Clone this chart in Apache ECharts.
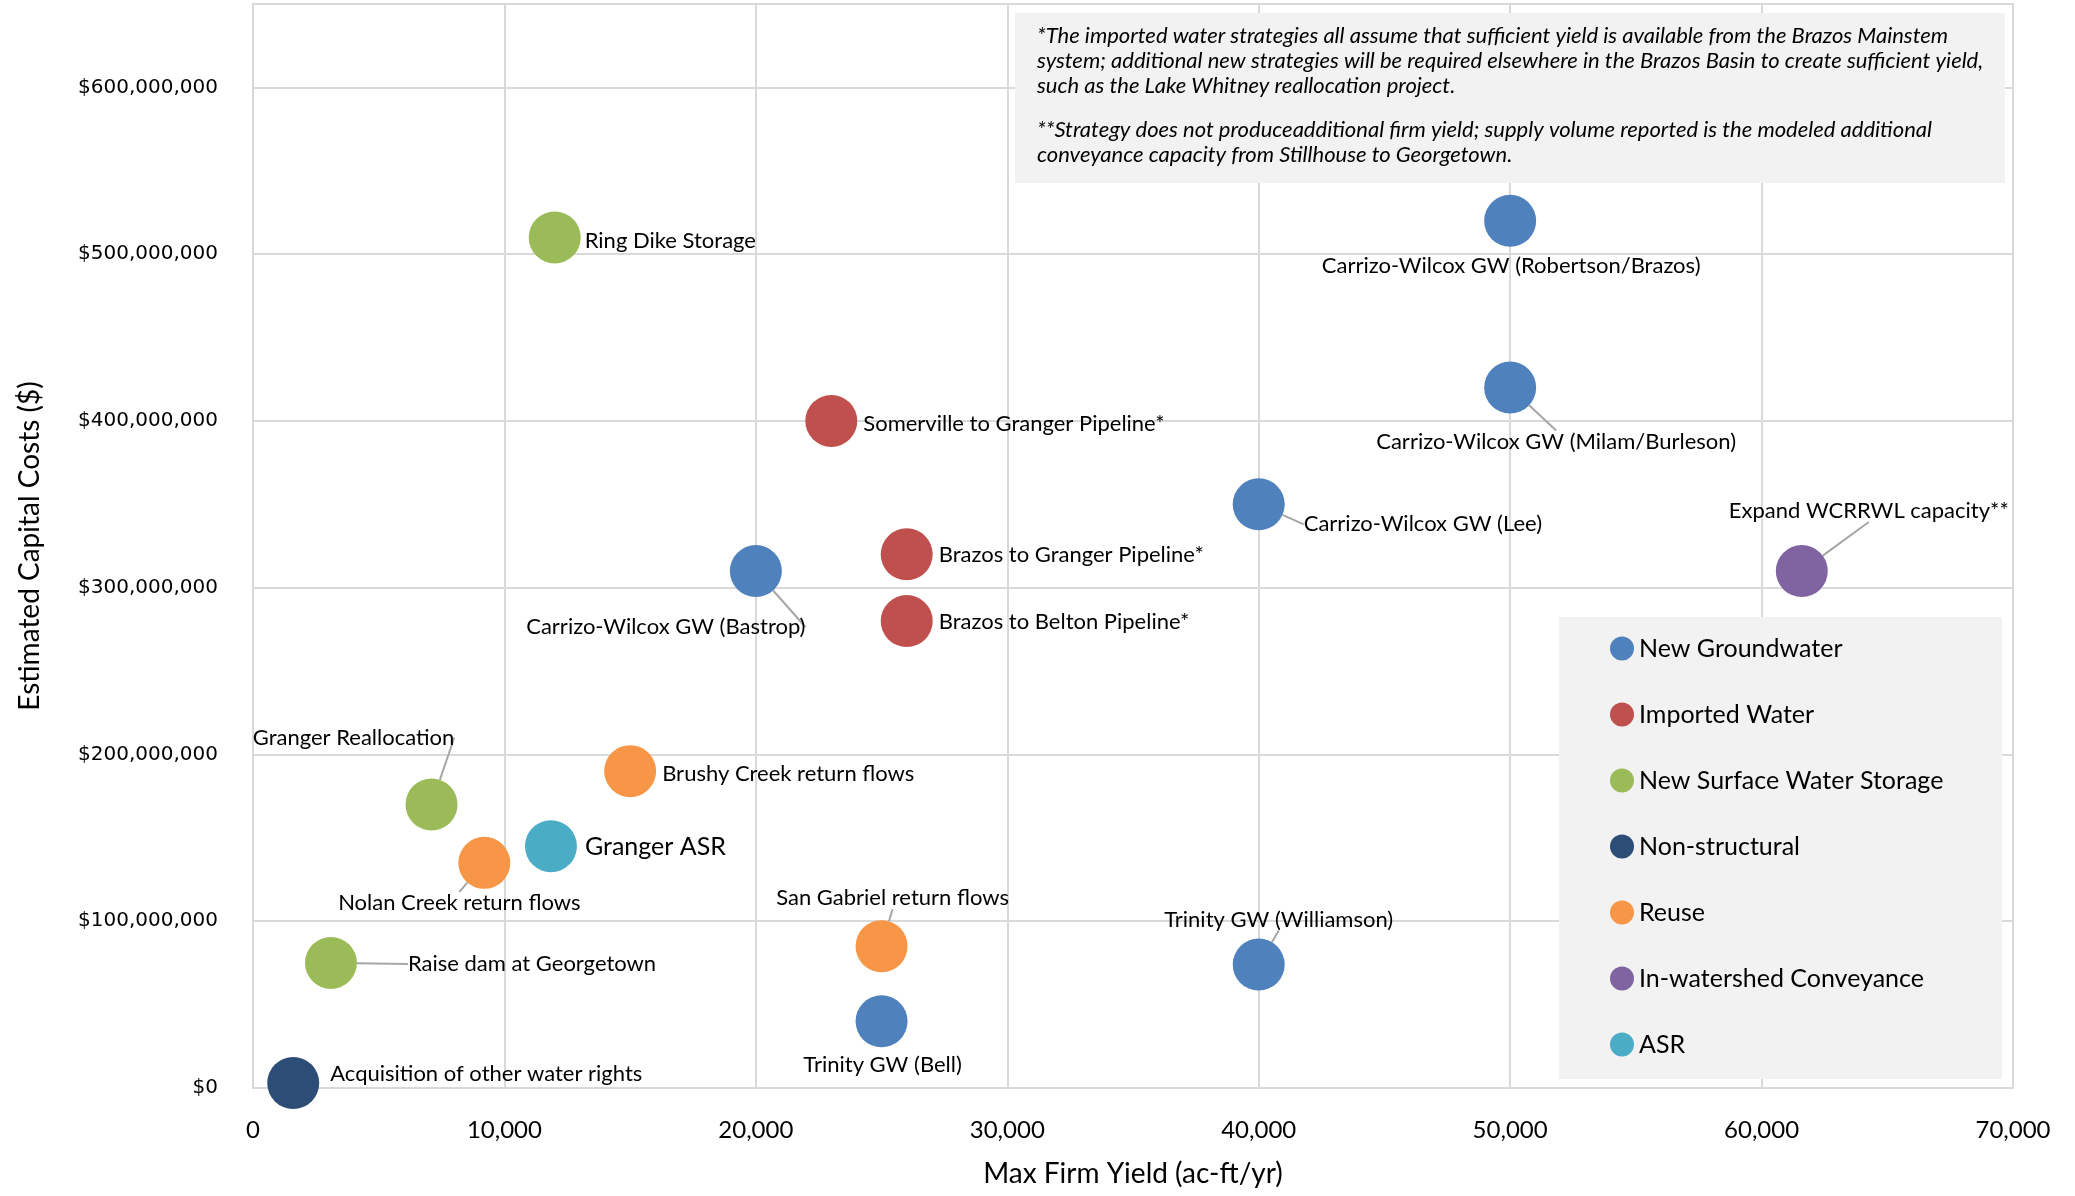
<!DOCTYPE html>
<html lang="en">
<head>
    <meta charset="UTF-8">
    <title>Capital cost vs firm yield</title>
    <style>
        html, body, #container { margin: 0; height: 100%; width: 100%; background: #fff; }
    </style>
</head>
<body>
    <div id="container"></div>
    <script src="https://cdn.jsdelivr.net/npm/echarts@6/dist/echarts.min.js"></script>
    <script>
        // strategy groups (legend order)
        var categories = ['New Groundwater', 'Imported Water', 'New Surface Water Storage',
            'Non-structural', 'Reuse', 'In-watershed Conveyance', 'ASR'];

        // one entry per strategy
        var strategyNames = [
            'Carrizo-Wilcox GW (Robertson/Brazos)', 'Carrizo-Wilcox GW (Milam/Burleson)',
            'Carrizo-Wilcox GW (Lee)', 'Carrizo-Wilcox GW (Bastrop)',
            'Trinity GW (Williamson)', 'Trinity GW (Bell)',
            'Somerville to Granger Pipeline*', 'Brazos to Granger Pipeline*', 'Brazos to Belton Pipeline*',
            'Ring Dike Storage', 'Granger Reallocation', 'Raise dam at Georgetown',
            'Acquisition of other water rights',
            'Brushy Creek return flows', 'Nolan Creek return flows', 'San Gabriel return flows',
            'Expand WCRRWL capacity**',
            'Granger ASR'
        ];
        var strategyGroup = [0, 0, 0, 0, 0, 0, 1, 1, 1, 2, 2, 2, 3, 4, 4, 4, 5, 6];
        var maxFirmYield = [50000, 50000, 40000, 20000, 40000, 25000, 23000, 26000, 26000,
            12000, 7100, 3100, 1600, 15000, 9200, 25000, 61600, 11850];
        var capitalCost = [520e6, 420e6, 350e6, 310e6, 74e6, 40e6, 400e6, 320e6, 280e6,
            510e6, 170e6, 75e6, 3e6, 190e6, 135e6, 85e6, 310e6, 145e6];

        var xTicks = { min: 0, max: 70000, interval: 10000 };
        var yTicks = { min: 0, max: 650000000, interval: 100000000 };

        var groupColors = ['#4F81BD', '#C0504D', '#9BBB59', '#2C4D75', '#F79646', '#8064A2', '#4BACC6'];

        // label placement relative to bubble centre: [dx, dy, align, leader line]
        var labelPlace = {
            'Carrizo-Wilcox GW (Robertson/Brazos)': [1, 45, 'center', false],
            'Carrizo-Wilcox GW (Milam/Burleson)': [46, 54, 'center', true],
            'Carrizo-Wilcox GW (Lee)': [45, 20, 'left', true],
            'Carrizo-Wilcox GW (Bastrop)': [-90, 56, 'center', true],
            'Trinity GW (Williamson)': [20, -45, 'center', true],
            'Trinity GW (Bell)': [1, 44, 'center', false],
            'Somerville to Granger Pipeline*': [32, 3, 'left', false],
            'Brazos to Granger Pipeline*': [32, 1, 'left', false],
            'Brazos to Belton Pipeline*': [32, 1, 'left', false],
            'Ring Dike Storage': [30, 3, 'left', false],
            'Granger Reallocation': [-78, -67, 'center', true],
            'Raise dam at Georgetown': [77, 1, 'left', true],
            'Acquisition of other water rights': [37, -9, 'left', false],
            'Brushy Creek return flows': [32, 3, 'left', false],
            'Nolan Creek return flows': [-25, 40, 'center', true],
            'San Gabriel return flows': [11, -48, 'center', true],
            'Expand WCRRWL capacity**': [67, -60, 'center', true],
            'Granger ASR': [34, 1, 'left', false]
        };

        var series = categories.map(function (cat, ci) {
            var data = [];
            strategyNames.forEach(function (name, i) {
                if (strategyGroup[i] !== ci) return;
                var item = { name: name, value: [maxFirmYield[i], capitalCost[i]] };
                item.labelLine = { show: labelPlace[name][3] };
                if (name === 'Granger ASR') item.label = { fontSize: 25 };
                data.push(item);
            });
            return {
                name: cat,
                type: 'scatter',
                symbolSize: 52,
                clip: false,
                itemStyle: { color: groupColors[ci], opacity: 1 },
                label: {
                    show: true,
                    formatter: '{b}',
                    fontFamily: 'Lato',
                    fontSize: 22,
                    color: '#000'
                },
                labelLine: {
                    show: true,
                    showAbove: true,
                    lineStyle: { color: '#A6A6A6', width: 2 }
                },
                labelLayout: function (p) {
                    var pl = labelPlace[p.text];
                    var cx = p.rect.x + p.rect.width / 2;
                    var cy = p.rect.y + p.rect.height / 2;
                    return { x: cx + pl[0], y: cy + pl[1], align: pl[2], verticalAlign: 'middle' };
                },
                emphasis: { disabled: true },
                data: data
            };
        });

        var myChart = echarts.init(document.getElementById('container'));
        var option = {
            animation: false,
            grid: {
                left: 253, right: 62, top: 4, bottom: 108,
                outerBoundsMode: 'none',
                containLabel: false,
                show: true, borderColor: '#D9D9D9', borderWidth: 2
            },
            xAxis: {
                type: 'value',
                min: xTicks.min, max: xTicks.max, interval: xTicks.interval,
                name: 'Max Firm Yield (ac-ft/yr)',
                nameLocation: 'middle',
                nameGap: 72,
                nameTextStyle: { fontFamily: 'Lato', fontSize: 28, color: '#000' },
                axisLine: { lineStyle: { color: '#D9D9D9', width: 2 } },
                axisTick: { show: false },
                splitLine: { lineStyle: { color: '#D9D9D9', width: 2 } },
                axisLabel: {
                    margin: 30, fontFamily: 'Lato', fontSize: 24, color: '#000',
                    formatter: function (v) { return v.toLocaleString('en-US'); }
                }
            },
            yAxis: {
                type: 'value',
                min: yTicks.min, max: yTicks.max, interval: yTicks.interval,
                name: 'Estimated Capital Costs ($)',
                nameLocation: 'middle',
                nameGap: 209,
                nameTextStyle: { fontFamily: 'Lato', fontSize: 28, color: '#000' },
                axisLine: { show: true, lineStyle: { color: '#D9D9D9', width: 2 } },
                axisTick: { show: false },
                splitLine: { lineStyle: { color: '#D9D9D9', width: 2 } },
                axisLabel: {
                    margin: 35, fontFamily: 'DejaVu Sans', fontSize: 20, color: '#000',
                    showMaxLabel: false,
                    formatter: function (v) { return '$' + v.toLocaleString('en-US'); }
                }
            },
            legend: {
                orient: 'vertical',
                left: 1610, top: 636,
                padding: 0,
                itemWidth: 24, itemHeight: 24, itemGap: 41,
                icon: 'circle',
                z: 10,
                textStyle: { fontFamily: 'Lato', fontSize: 25, color: '#000' },
                data: categories
            },
            graphic: [
                {
                    type: 'rect', z: 5,
                    shape: { x: 1015, y: 13, width: 990, height: 170 },
                    style: { fill: '#F2F2F2' }
                },
                {
                    type: 'text', z: 6, left: 1037, top: 23,
                    style: {
                        text: '*The imported water strategies all assume that sufficient yield is available from the Brazos Mainstem\n' +
                            'system; additional new strategies will be required elsewhere in the Brazos Basin to create sufficient yield,\n' +
                            'such as the Lake Whitney reallocation project.',
                        font: 'italic 22px Lato', lineHeight: 25, fill: '#000'
                    }
                },
                {
                    type: 'text', z: 6, left: 1037, top: 117,
                    style: {
                        text: '**Strategy does not produceadditional firm yield; supply volume reported is the modeled additional\n' +
                            'conveyance capacity from Stillhouse to Georgetown.',
                        font: 'italic 22px Lato', lineHeight: 25, fill: '#000'
                    }
                },
                {
                    type: 'rect', z: 5,
                    shape: { x: 1559, y: 617, width: 443, height: 462 },
                    style: { fill: '#F2F2F2' }
                }
            ],
            series: series
        };
        myChart.setOption(option);
    </script>
</body>
</html>
